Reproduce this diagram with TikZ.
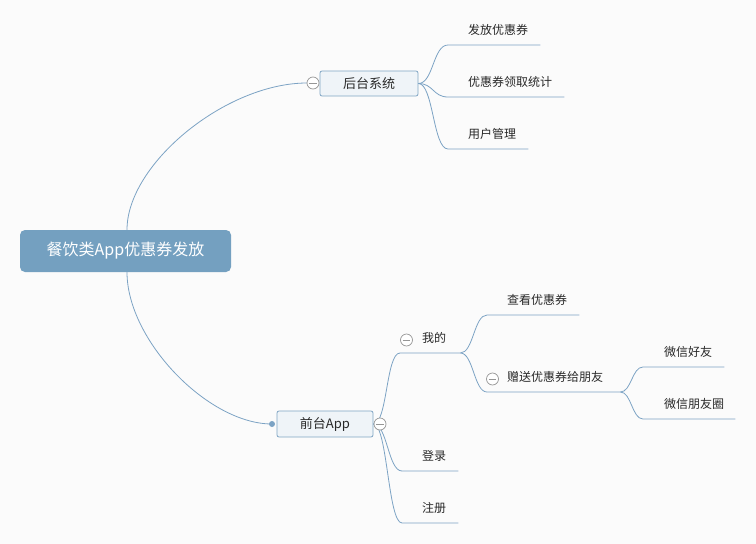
\documentclass[tikz,border=0pt]{standalone}
\usepackage{fontspec}
\setmainfont{Noto Sans CJK SC}
\usetikzlibrary{calc}
\definecolor{bg}{RGB}{251,251,251}
\definecolor{rootblue}{RGB}{116,160,192}
\definecolor{linkblue}{RGB}{124,163,196}
\definecolor{boxfill}{RGB}{239,244,248}
\definecolor{boxline}{RGB}{128,165,196}
\definecolor{txt}{RGB}{40,40,40}
\definecolor{ctrl}{RGB}{150,150,150}
\tikzset{
  rootnode/.style={fill=rootblue, rounded corners=5pt, minimum width=211pt, minimum height=42pt, text=white, font=\fontsize{16pt}{18pt}\selectfont, inner sep=0pt},
  boxnode/.style={draw=boxline, fill=boxfill, rounded corners=2pt, line width=0.8pt, text=txt, font=\fontsize{13pt}{15pt}\selectfont, inner sep=0pt},
  leaf/.style={anchor=south west, inner xsep=0pt, inner ysep=7pt, text depth=3pt, text height=9pt, text=txt, font=\fontsize{12pt}{14pt}\selectfont},
  link/.style={draw=linkblue, line width=0.8pt},
  ctrlnode/.style={circle, draw=ctrl, fill=white, line width=0.7pt, minimum size=12pt, inner sep=0pt,
    path picture={\draw[ctrl, line width=0.9pt] ([xshift=-3.8pt]path picture bounding box.center) -- ([xshift=3.8pt]path picture bounding box.center);}},
  dotnode/.style={circle, fill=linkblue, minimum size=6pt, inner sep=0pt}
}
\begin{document}
\begin{tikzpicture}[x=1pt,y=-1pt]
\useasboundingbox (0,0) rectangle (756,544);
\fill[bg] (0,0) rectangle (756,544);

% main nodes
\node[rootnode] (r) at (125.5,251) {餐饮类App优惠券发放};
\node[boxnode, minimum width=98pt, minimum height=25pt] (b) at (369,83.5) {后台系统};
\node[boxnode, minimum width=96pt, minimum height=26pt] (f) at (325,424) {前台App};

% leaves of 后台系统
\node[leaf] (a1) at (448,45) {\hspace*{20pt}发放优惠券\hspace*{12pt}};
\node[leaf] (a2) at (448,97) {\hspace*{20pt}优惠券领取统计\hspace*{12pt}};
\node[leaf] (a3) at (448,149) {\hspace*{20pt}用户管理\hspace*{12pt}};

% children of 前台App
\node[leaf] (w) at (400,353) {\hspace*{22pt}我的\hspace*{14pt}};
\node[leaf] (e1) at (402,471) {\hspace*{20pt}登录\hspace*{12pt}};
\node[leaf] (e2) at (402,523) {\hspace*{20pt}注册\hspace*{12pt}};

% children of 我的
\node[leaf] (c1) at (487,315) {\hspace*{20pt}查看优惠券\hspace*{12pt}};
\node[leaf] (z) at (487,392) {\hspace*{20pt}赠送优惠券给朋友\hspace*{17pt}};

% children of 赠送优惠券给朋友
\node[leaf] (d1) at (643,367) {\hspace*{21pt}微信好友\hspace*{12pt}};
\node[leaf] (d2) at (643,419) {\hspace*{21pt}微信朋友圈\hspace*{11pt}};

% control circles and dot
\coordinate (bcpos) at (313,83);
\coordinate (fcpos) at (380,424);
\coordinate (wcpos) at (406.5,340);
\coordinate (zcpos) at (492.5,379);
\node[dotnode] (fd) at (272,424) {};

% root connectors
\draw[link] ([xshift=1.5pt]r.north) .. controls +(0,-66) and +(-81,0) .. (307,83);
\draw[link] ([xshift=1.5pt]r.south) .. controls +(0,68) and +(-64,0) .. (fd.center);

% 后台系统 connectors
\foreach \c in {a1,a2,a3}
  \draw[link] (b.east) .. controls +(15,0) and +(-15,0) .. (\c.south west) -- (\c.south east);

% 前台App connectors
\foreach \c in {w,e1,e2}
  \draw[link] (f.east) .. controls +(14,0) and +(-14,0) .. (\c.south west) -- (\c.south east);

% 我的 connectors
\foreach \c in {c1,z}
  \draw[link] (w.south east) .. controls +(13,0) and +(-13,0) .. (\c.south west) -- (\c.south east);

% 赠送 connectors
\foreach \c in {d1,d2}
  \draw[link] (z.south east) .. controls +(11,0) and +(-11,0) .. (\c.south west) -- (\c.south east);

% control circles on top
\node[ctrlnode] (bc) at (bcpos) {};
\node[ctrlnode] (fc) at (fcpos) {};
\node[ctrlnode] (wc) at (wcpos) {};
\node[ctrlnode] (zc) at (zcpos) {};
\end{tikzpicture}
\end{document}
